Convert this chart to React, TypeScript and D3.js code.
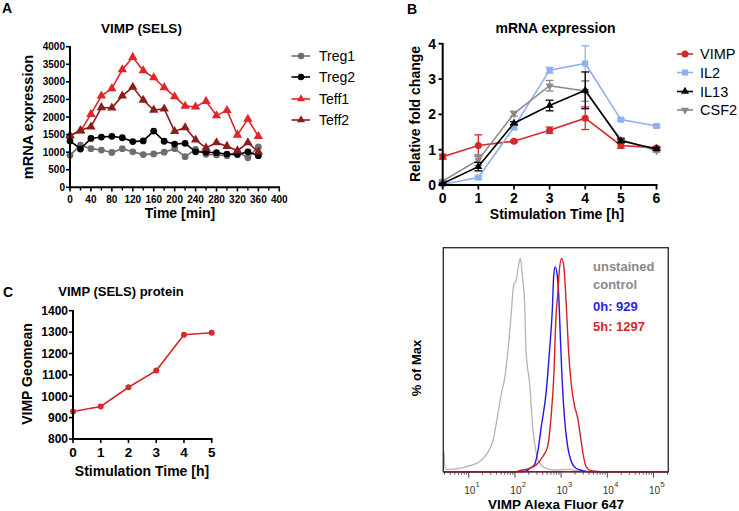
import React from "react";
import * as d3 from "d3";

const F = "'Liberation Sans', Arial, Helvetica, sans-serif";

// ---------- Panel A data ----------
const timeMin = [0, 20, 40, 60, 80, 100, 120, 140, 160, 180, 200, 220, 240, 260, 280, 300, 320, 340, 360];
const treg1 = [910, 1200, 1100, 1060, 990, 1100, 1010, 930, 950, 1000, 1100, 870, 1080, 940, 920, 900, 1010, 840, 1150];
const treg2 = [1320, 1090, 1390, 1430, 1450, 1410, 1300, 1320, 1600, 1310, 1230, 1250, 1010, 1000, 985, 945, 930, 1010, 900];
const teff1 = [1470, 1600, 2080, 2600, 2810, 3350, 3700, 3320, 3120, 2840, 2580, 2310, 2290, 2450, 2040, 2190, 1490, 1940, 1450];
const teff2 = [1470, 1620, 1720, 2270, 2260, 2600, 2850, 2480, 2200, 2230, 1590, 1700, 1350, 1120, 1270, 1170, 1040, 1270, 1010];
const aXTicks = [0, 40, 80, 120, 160, 200, 240, 280, 320, 360, 400];
const aYTicks = [0, 500, 1000, 1500, 2000, 2500, 3000, 3500, 4000];

// ---------- Panel B data ----------
const stimH = [0, 1, 2, 3, 4, 5, 6];
const vimpB = [0.8, 1.12, 1.24, 1.55, 1.89, 1.12, 1.05];
const vimpErr = [0.07, 0.3, 0.03, 0.09, 0.32, 0.08, 0.04];
const il2 = [0.02, 0.21, 1.63, 3.25, 3.44, 1.85, 1.67];
const il2Err = [0.02, 0.04, 0.06, 0.08, 0.5, 0.03, 0.03];
const il13 = [0.04, 0.52, 1.75, 2.25, 2.68, 1.25, 1.02];
const il13Err = [0.02, 0.12, 0.04, 0.15, 0.52, 0.05, 0.04];
const csf2 = [0.11, 0.71, 2.02, 2.81, 2.66, 1.29, 0.97];
const csf2Err = [0.02, 0.15, 0.07, 0.15, 0.29, 0.04, 0.04];
const bYTicks = [0, 1, 2, 3, 4];

// ---------- Panel C data ----------
const protH = [0, 1, 2, 3, 4, 5];
const geomean = [929, 952, 1042, 1120, 1288, 1297];
const cYTicks = [800, 900, 1000, 1100, 1200, 1300, 1400];

// ---------- Panel D data (log10 intensity, % of max) ----------
const grayLog = [0.45, 0.46, 0.48, 0.52, 0.7, 0.95, 1.24, 1.38, 1.53, 1.6, 1.71, 1.78, 1.85, 1.92, 1.97, 2.03, 2.09, 2.12, 2.16, 2.21, 2.24, 2.32, 2.39, 2.46, 2.53, 2.68, 2.89, 3.18, 3.32, 3.61, 5.32];
const grayPct = [0, 10, 3, 1, 1.2, 2.4, 4.8, 8, 15, 23, 37, 44, 57, 74, 87, 90, 98, 100, 92, 79, 57, 41, 20, 9, 4, 1.6, 0.8, 1.1, 0.5, 0, 0];
const blueLog = [0.45, 2.1, 2.25, 2.32, 2.42, 2.5, 2.57, 2.68, 2.75, 2.81, 2.84, 2.87, 2.91, 2.95, 2.98, 3.02, 3.07, 3.14, 3.22, 3.32, 3.47, 3.61, 5.32];
const bluePct = [0, 0, 0.3, 1.6, 3.2, 10, 21, 38, 57, 76, 92, 96, 93, 82, 65, 44, 26, 12, 4.8, 1.6, 0.5, 0, 0];
const redLog = [0.45, 2.0, 2.1, 2.32, 2.46, 2.6, 2.71, 2.78, 2.84, 2.89, 2.93, 2.96, 3.01, 3.06, 3.11, 3.16, 3.22, 3.29, 3.36, 3.41, 3.47, 3.54, 3.65, 3.9, 5.32];
const redPct = [0, 0, 0.5, 1.6, 3.2, 7, 12, 25, 44, 73, 84, 94, 100, 96, 79, 57, 41, 31, 25, 18, 9, 2.4, 0.5, 0, 0];
const dDecades = [1, 2, 3, 4, 5];

const RED = "#d42a2a";
const DARKRED = "#8e1c1c";
const GRAY = "#6e6e6e";
const BLUE_L = "#8fb0ef";
const GRAY_B = "#8a8a8a";

const tri = d3.symbol().type(d3.symbolTriangle).size(38)()!;
const triSm = d3.symbol().type(d3.symbolTriangle).size(28)()!;
const sq = d3.symbol().type(d3.symbolSquare).size(38)()!;

function PanelA() {
  const x = d3.scaleLinear().domain([0, 400]).range([70, 279.3]);
  const y = d3.scaleLinear().domain([0, 4000]).range([187.3, 46.7]);
  const line = (vals: number[]) =>
    d3.line<number>().x((_, i) => x(timeMin[i])).y((v) => y(v))(vals)!;
  const series = [
    { name: "Treg1", v: treg1, c: GRAY, m: "circle" },
    { name: "Treg2", v: treg2, c: "#000", m: "circle" },
    { name: "Teff1", v: teff1, c: "#e0262b", m: "tri" },
    { name: "Teff2", v: teff2, c: DARKRED, m: "tri" },
  ];
  const minor = d3.range(20, 400, 40);
  return (
    <g>
      <text x={2} y={13} fontFamily={F} fontWeight="bold" fontSize={14}>A</text>
      <text x={141.5} y={33} textAnchor="middle" fontFamily={F} fontWeight="bold" fontSize={13.5}>VIMP (SELS)</text>
      {series.map((s) => (
        <g key={s.name}>
          <path d={line(s.v)} fill="none" stroke={s.c} strokeWidth={1.6} />
          {s.v.map((v, i) =>
            s.m === "circle" ? (
              <circle key={i} cx={x(timeMin[i])} cy={y(v)} r={3.4} fill={s.c} />
            ) : (
              <path key={i} d={tri} transform={`translate(${x(timeMin[i])},${y(v)})`} fill={s.c} />
            )
          )}
        </g>
      ))}
      <line x1={70} x2={70} y1={46} y2={188.3} stroke="#000" strokeWidth={2} />
      <line x1={69} x2={280} y1={187.3} y2={187.3} stroke="#000" strokeWidth={2} />
      {aYTicks.map((t) => (
        <g key={t}>
          <line x1={66} x2={70} y1={y(t)} y2={y(t)} stroke="#000" strokeWidth={1.6} />
          <text x={65} y={y(t) + 3.5} textAnchor="end" fontFamily={F} fontWeight="bold" fontSize={10}>{t}</text>
        </g>
      ))}
      {aXTicks.map((t) => (
        <g key={t}>
          <line x1={x(t)} x2={x(t)} y1={187.3} y2={191.5} stroke="#000" strokeWidth={1.6} />
          <text x={x(t)} y={203} textAnchor="middle" fontFamily={F} fontWeight="bold" fontSize={10}>{t}</text>
        </g>
      ))}
      {minor.map((t) => (
        <line key={t} x1={x(t)} x2={x(t)} y1={187.3} y2={190.5} stroke="#000" strokeWidth={1.4} />
      ))}
      <text x={180} y={218} textAnchor="middle" fontFamily={F} fontWeight="bold" fontSize={14}>Time [min]</text>
      <text transform="translate(33,117) rotate(-90)" textAnchor="middle" fontFamily={F} fontWeight="bold" fontSize={14.5}>mRNA expression</text>
      {series.map((s, i) => {
        const ly = [56, 77, 99, 120][i];
        return (
          <g key={s.name}>
            <line x1={291.5} x2={310} y1={ly} y2={ly} stroke={s.c} strokeWidth={1.6} />
            {s.m === "circle" ? (
              <circle cx={301} cy={ly} r={3.2} fill={s.c} />
            ) : (
              <path d={triSm} transform={`translate(301,${ly})`} fill={s.c} />
            )}
            <text x={319} y={ly + 5} fontFamily={F} fontSize={14}>{s.name}</text>
          </g>
        );
      })}
    </g>
  );
}

function PanelB() {
  const x = d3.scaleLinear().domain([0, 6]).range([442.7, 656.5]);
  const y = d3.scaleLinear().domain([0, 4]).range([185, 43.7]);
  const line = (vals: number[]) =>
    d3.line<number>().x((_, i) => x(stimH[i])).y((v) => y(v))(vals)!;
  const series = [
    { name: "VIMP", v: vimpB, e: vimpErr, c: RED, m: "circle" },
    { name: "IL2", v: il2, e: il2Err, c: BLUE_L, m: "square" },
    { name: "CSF2", v: csf2, e: csf2Err, c: GRAY_B, m: "down" },
    { name: "IL13", v: il13, e: il13Err, c: "#000", m: "up" },
  ];
  const legendOrder = ["VIMP", "IL2", "IL13", "CSF2"];
  const marker = (m: string, c: string, cx: number, cy: number, key?: number) => {
    if (m === "circle") return <circle key={key} cx={cx} cy={cy} r={3.5} fill={c} />;
    if (m === "square") return <path key={key} d={sq} transform={`translate(${cx},${cy})`} fill={c} />;
    if (m === "up") return <path key={key} d={triSm} transform={`translate(${cx},${cy})`} fill={c} />;
    return <path key={key} d={triSm} transform={`translate(${cx},${cy}) rotate(180)`} fill={c} />;
  };
  return (
    <g>
      <text x={407} y={14} fontFamily={F} fontWeight="bold" fontSize={14}>B</text>
      <text x={555.5} y={33} textAnchor="middle" fontFamily={F} fontWeight="bold" fontSize={14}>mRNA expression</text>
      {series.map((s) => (
        <g key={s.name}>
          <path d={line(s.v)} fill="none" stroke={s.c} strokeWidth={1.6} />
          {s.v.map((v, i) => (
            <g key={i} stroke={s.c} strokeWidth={1.3}>
              <line x1={x(stimH[i])} x2={x(stimH[i])} y1={y(v - s.e[i])} y2={y(v + s.e[i])} />
              <line x1={x(stimH[i]) - 4} x2={x(stimH[i]) + 4} y1={y(v + s.e[i])} y2={y(v + s.e[i])} />
              <line x1={x(stimH[i]) - 4} x2={x(stimH[i]) + 4} y1={y(v - s.e[i])} y2={y(v - s.e[i])} />
            </g>
          ))}
          {s.v.map((v, i) => marker(s.m, s.c, x(stimH[i]), y(v), i))}
        </g>
      ))}
      <line x1={442.7} x2={442.7} y1={43} y2={186} stroke="#000" strokeWidth={2} />
      <line x1={441.7} x2={657.5} y1={185} y2={185} stroke="#000" strokeWidth={2} />
      {bYTicks.map((t) => (
        <g key={t}>
          <line x1={438.5} x2={442.7} y1={y(t)} y2={y(t)} stroke="#000" strokeWidth={1.8} />
          <text x={436} y={y(t) + 5} textAnchor="end" fontFamily={F} fontWeight="bold" fontSize={14}>{t}</text>
        </g>
      ))}
      {stimH.map((t) => (
        <g key={t}>
          <line x1={x(t)} x2={x(t)} y1={185} y2={189.5} stroke="#000" strokeWidth={1.8} />
          <text x={x(t)} y={203} textAnchor="middle" fontFamily={F} fontWeight="bold" fontSize={14}>{t}</text>
        </g>
      ))}
      <text x={557} y={219} textAnchor="middle" fontFamily={F} fontWeight="bold" fontSize={14}>Stimulation Time [h]</text>
      <text transform="translate(420,114) rotate(-90)" textAnchor="middle" fontFamily={F} fontWeight="bold" fontSize={14}>Relative fold change</text>
      {legendOrder.map((n, i) => {
        const s = series.find((q) => q.name === n)!;
        const ly = [54, 72.5, 91.5, 110][i];
        return (
          <g key={n}>
            <line x1={677} x2={693} y1={ly} y2={ly} stroke={s.c} strokeWidth={1.6} />
            {marker(s.m, s.c, 685, ly)}
            <text x={700} y={ly + 5} fontFamily={F} fontSize={14.5}>{n}</text>
          </g>
        );
      })}
    </g>
  );
}

function PanelC() {
  const x = d3.scaleLinear().domain([0, 5]).range([73, 211.7]);
  const y = d3.scaleLinear().domain([800, 1400]).range([439, 310.7]);
  const path = d3.line<number>().x((_, i) => x(protH[i])).y((v) => y(v))(geomean)!;
  return (
    <g>
      <text x={3} y={297} fontFamily={F} fontWeight="bold" fontSize={14}>C</text>
      <text x={121} y={296} textAnchor="middle" fontFamily={F} fontWeight="bold" fontSize={13}>VIMP (SELS) protein</text>
      <path d={path} fill="none" stroke={RED} strokeWidth={1.6} />
      {geomean.map((v, i) => (
        <circle key={i} cx={x(protH[i])} cy={y(v)} r={3} fill={RED} />
      ))}
      <line x1={73} x2={73} y1={310} y2={440} stroke="#000" strokeWidth={2} />
      <line x1={72} x2={212.5} y1={439} y2={439} stroke="#000" strokeWidth={2} />
      {cYTicks.map((t) => (
        <g key={t}>
          <line x1={69} x2={73} y1={y(t)} y2={y(t)} stroke="#000" strokeWidth={1.6} />
          <text x={68} y={y(t) + 4.3} textAnchor="end" fontFamily={F} fontWeight="bold" fontSize={12}>{t}</text>
        </g>
      ))}
      {protH.map((t) => (
        <g key={t}>
          <line x1={x(t)} x2={x(t)} y1={439} y2={443} stroke="#000" strokeWidth={1.6} />
          <text x={x(t)} y={457} textAnchor="middle" fontFamily={F} fontWeight="bold" fontSize={13.5}>{t}</text>
        </g>
      ))}
      <text x={142} y={476} textAnchor="middle" fontFamily={F} fontWeight="bold" fontSize={14}>Stimulation Time [h]</text>
      <text transform="translate(32,374) rotate(-90)" textAnchor="middle" fontFamily={F} fontWeight="bold" fontSize={14}>VIMP Geomean</text>
    </g>
  );
}

function PanelD() {
  const L = 443.3, R = 668.3, T = 247.7, B = 471.7;
  const x = d3.scaleLog().domain([Math.pow(10, 0.45), Math.pow(10, 5.32)]).range([L, R]);
  const y = d3.scaleLinear().domain([0, 105]).range([B, T]);
  const mk = (lg: number[], pc: number[]) =>
    d3.line<number>().x((v) => x(Math.pow(10, v))).y((_, i) => y(pc[i])).curve(d3.curveMonotoneX)(lg)!;
  const minor: number[] = [];
  for (let d = 0; d <= 5; d++) for (let k = 2; k <= 9; k++) {
    const v = k * Math.pow(10, d);
    if (v >= x.domain()[0] && v <= x.domain()[1]) minor.push(v);
  }
  return (
    <g>
      <path d={mk(grayLog, grayPct)} fill="none" stroke="#b4b4b4" strokeWidth={1.3} />
      <path d={mk(blueLog, bluePct)} fill="none" stroke="#2418e6" strokeWidth={1.4} />
      <path d={mk(redLog, redPct)} fill="none" stroke="#d42020" strokeWidth={1.4} />
      <rect x={L} y={T} width={R - L} height={B - T} fill="none" stroke="#333" strokeWidth={1.4} />
      <line x1={L} x2={R} y1={B} y2={B} stroke="#8e2020" strokeWidth={1.4} />
      {minor.map((v, i) => (
        <line key={i} x1={x(v)} x2={x(v)} y1={B} y2={B + 3} stroke="#333" strokeWidth={0.8} />
      ))}
      {dDecades.map((d) => (
        <g key={d}>
          <line x1={x(Math.pow(10, d))} x2={x(Math.pow(10, d))} y1={B} y2={B + 6} stroke="#333" strokeWidth={0.9} />
          <text x={x(Math.pow(10, d)) + 1} y={494} textAnchor="middle" fontFamily={F} fontSize={10} fill="#333">10</text>
          <text x={x(Math.pow(10, d)) + 9} y={487} textAnchor="middle" fontFamily={F} fontSize={7.5} fill="#333">{d}</text>
        </g>
      ))}
      <text x={556} y={508.5} textAnchor="middle" fontFamily={F} fontWeight="bold" fontSize={13.5}>VIMP Alexa Fluor 647</text>
      <text transform="translate(421,368) rotate(-90)" textAnchor="middle" fontFamily={F} fontWeight="bold" fontSize={13}>% of Max</text>
      <g fontFamily={F} fontWeight="bold" fontSize={13}>
        <text x={593} y={271} fill="#8a8a8a">unstained</text>
        <text x={593} y={289} fill="#8a8a8a">control</text>
        <text x={593} y={311} fill="#2b1de6">0h: 929</text>
        <text x={593} y={331} fill="#d42a2a">5h: 1297</text>
      </g>
    </g>
  );
}

export default function App() {
  return (
    <svg
      width={739}
      height={511}
      viewBox="0 0 739 511"
      style={{ position: "absolute", left: 0, top: 0, background: "#fff" }}
    >
      <rect width={739} height={511} fill="#fff" />
      <PanelA />
      <PanelB />
      <PanelC />
      <PanelD />
    </svg>
  );
}
